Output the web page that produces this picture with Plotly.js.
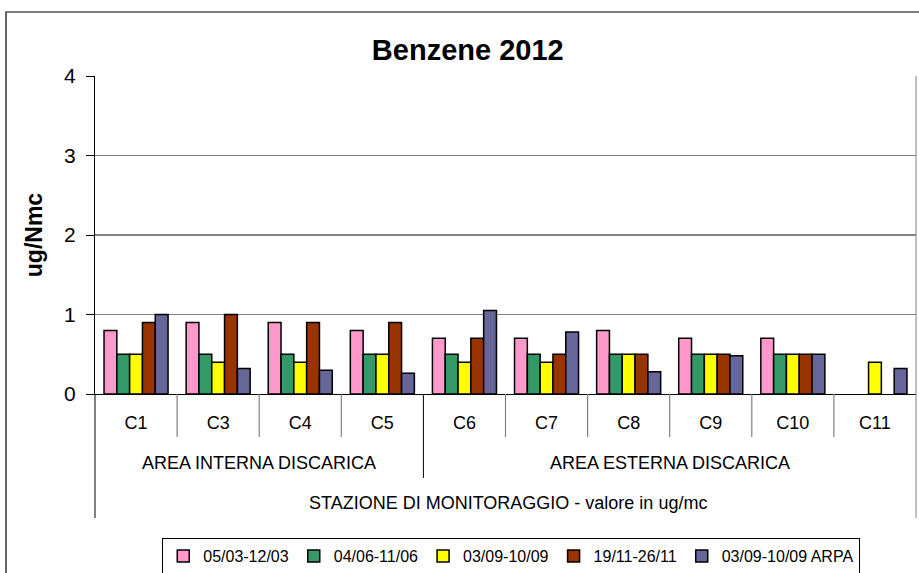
<!DOCTYPE html>
<html>
<head>
<meta charset="utf-8">
<script src="https://cdn.plot.ly/plotly-3.0.1.min.js"></script>
<style>html,body{margin:0;padding:0;background:#fff;}#chart{width:919px;height:573px;}</style>
</head>
<body>
<div id="chart"></div>
<script>
const categories = ["C1","C3","C4","C5","C6","C7","C8","C9","C10","C11"];
const seriesNames = ["05/03-12/03","04/06-11/06","03/09-10/09","19/11-26/11","03/09-10/09 ARPA"];
const s1 = [0.8, 0.9, 0.9, 0.8, 0.7, 0.7, 0.8, 0.7, 0.7, null];
const s2 = [0.5, 0.5, 0.5, 0.5, 0.5, 0.5, 0.5, 0.5, 0.5, null];
const s3 = [0.5, 0.4, 0.4, 0.5, 0.4, 0.4, 0.5, 0.5, 0.5, 0.4];
const s4 = [0.9, 1.0, 0.9, 0.9, 0.7, 0.5, 0.5, 0.5, 0.5, null];
const s5 = [1.0, 0.32, 0.3, 0.26, 1.05, 0.78, 0.28, 0.48, 0.5, 0.32];
const groupLabels = ["AREA INTERNA DISCARICA","AREA ESTERNA DISCARICA"];
const xTitle = "STAZIONE DI MONITORAGGIO - valore in ug/mc";
const yTitle = "ug/Nmc";
const chartTitle = "Benzene 2012";
const colors = ["#FF99CC","#339966","#FFFF00","#993300","#666699"];

const allSeries = [s1,s2,s3,s4,s5];
const traces = allSeries.map((vals,i)=>({
  type:'bar', name: seriesNames[i], x: categories, y: vals,
  marker:{color: colors[i], line:{color:'#000', width:1.5}}
}));

const FONT = "Liberation Sans, Arial, sans-serif";
const shapes = [];
for (let k=1;k<10;k++){
  if (k===4) continue;
  shapes.push({type:'line', xref:'paper', yref:'paper', x0:k/10, x1:k/10, y0:0, y1:-0.135, line:{color:'#808080', width:1.2}});
}
shapes.push({type:'line', xref:'paper', yref:'paper', x0:0.4, x1:0.4, y0:0, y1:-0.264, line:{color:'#000', width:1}});
shapes.push({type:'line', xref:'paper', yref:'paper', x0:0, x1:0, y0:0, y1:-0.39, line:{color:'#000', width:1}});
shapes.push({type:'line', xref:'paper', yref:'paper', x0:1, x1:1, y0:1, y1:-0.39, line:{color:'#808080', width:1}});
shapes.push({type:'rect', xref:'paper', yref:'paper', x0:-0.1084, x1:1.1, y0:1.2013, y1:-0.6, line:{color:'#000', width:1.2}, fillcolor:'rgba(0,0,0,0)'});

const annFont = {family:FONT, size:18, color:'#000'};
const annotations = [
  {text: groupLabels[0], xref:'paper', yref:'paper', x:0.2, y:-0.217, xanchor:'center', yanchor:'middle', showarrow:false, font:annFont},
  {text: groupLabels[1], xref:'paper', yref:'paper', x:0.7, y:-0.217, xanchor:'center', yanchor:'middle', showarrow:false, font:annFont},
  {text: xTitle, xref:'paper', yref:'paper', x:0.503, y:-0.343, xanchor:'center', yanchor:'middle', showarrow:false, font:annFont}
];

const layout = {
  width:919, height:573,
  margin:{l:95, r:3, t:76, b:179, autoexpand:false},
  paper_bgcolor:'#fff', plot_bgcolor:'#fff',
  font:{family:FONT, color:'#000'},
  title:{text:chartTitle, font:{family:FONT, size:29, color:'#000', weight:'bold'}, x:0.509, xanchor:'center', y:0.913, yanchor:'middle'},
  barmode:'group', bargap:0.22, bargroupgap:0,
  xaxis:{type:'category', categories:categories, showgrid:false, zeroline:false, showline:true, linecolor:'#000', linewidth:1.2,
    ticks:'', tickfont:{family:FONT, size:18, color:'#000'}, ticklabelstandoff:12, fixedrange:true},
  yaxis:{range:[0,4], dtick:1, tick0:0, showgrid:true, gridcolor:'#808080', gridwidth:1.2, zeroline:false,
    showline:true, linecolor:'#000', linewidth:1.2, ticks:'outside', ticklen:8, tickcolor:'#000',
    tickfont:{family:FONT, size:21, color:'#000'}, ticklabelstandoff:6,
    title:{text:yTitle, font:{family:FONT, size:23, color:'#000', weight:'bold'}, standoff:14}},
  legend:{orientation:'h', x:0.507, xanchor:'center', y:-0.453, yanchor:'top', bordercolor:'#000', borderwidth:1,
    font:{family:FONT, size:16, color:'#000'}, traceorder:'normal', itemwidth:30, bgcolor:'#fff'},
  shapes:shapes, annotations:annotations
};
Plotly.newPlot('chart', traces, layout, {staticPlot:true, displayModeBar:false});
</script>
</body>
</html>
